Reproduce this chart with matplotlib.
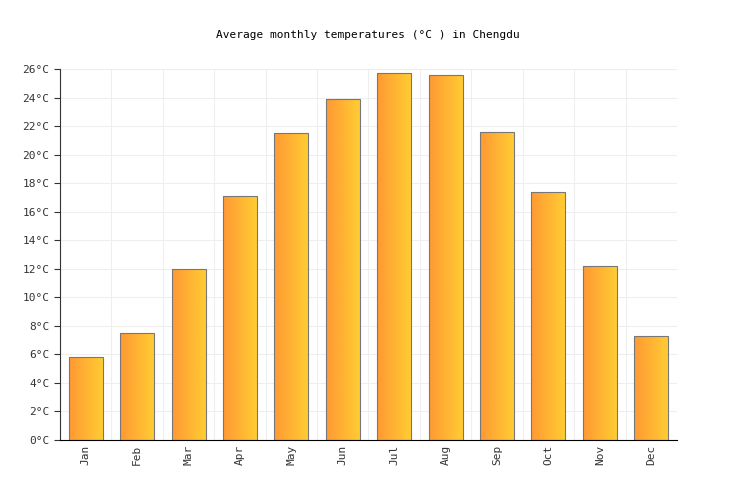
import numpy as np
import matplotlib.pyplot as plt
from matplotlib.colors import LinearSegmentedColormap

months = ["Jan", "Feb", "Mar", "Apr", "May", "Jun", "Jul", "Aug", "Sep", "Oct", "Nov", "Dec"]
temps = [5.8, 7.5, 12.0, 17.1, 21.5, 23.9, 25.7, 25.6, 21.6, 17.4, 12.2, 7.3]
yticks = list(range(0, 27, 2))

plt.rcParams["font.family"] = "DejaVu Sans Mono"
fig = plt.figure(figsize=(7.36, 5.0), dpi=100)
ax = fig.add_axes([60 / 736, 60 / 500, 617 / 736, 371 / 500])

cmap = LinearSegmentedColormap.from_list("orng", ["#ff9933", "#ffcc33"])
grad = np.linspace(0, 1, 64).reshape(1, -1)
x = np.arange(len(months))
w = 0.66
bars = ax.bar(x, temps, width=w, color="none", edgecolor="#777777", linewidth=0.8, zorder=3)
for b in bars:
    im = ax.imshow(grad, cmap=cmap, aspect="auto", zorder=2,
                   extent=[b.get_x(), b.get_x() + b.get_width(), 0, b.get_height()])
    im.set_clip_path(b)

ax.set_xlim(-0.5, len(months) - 0.5)
ax.set_ylim(0, 26)
ax.set_xticks(x)
ax.set_xticklabels(months, rotation=90, fontsize=8, color="#333333")
ax.set_yticks(yticks)
ax.set_yticklabels([f"{t}°C" for t in yticks], fontsize=8, color="#333333")
ax.set_xticks(np.arange(-0.5, len(months)), minor=True)
ax.grid(True, which="minor", axis="x", color="#eeeeee", linewidth=0.8, zorder=0)
ax.grid(True, which="major", axis="y", color="#eeeeee", linewidth=0.8, zorder=0)
ax.tick_params(axis="x", which="both", length=0)
ax.tick_params(axis="y", length=4, color="#333333")
for s in ["top", "right"]:
    ax.spines[s].set_visible(False)
ax.spines["left"].set_color("#333333")
ax.spines["bottom"].set_color("#000000")

fig.text(0.5, 1 - 35 / 500, "Average monthly temperatures (°C ) in Chengdu",
         ha="center", va="center", fontsize=8)
fig.savefig("out.png", dpi=100)
